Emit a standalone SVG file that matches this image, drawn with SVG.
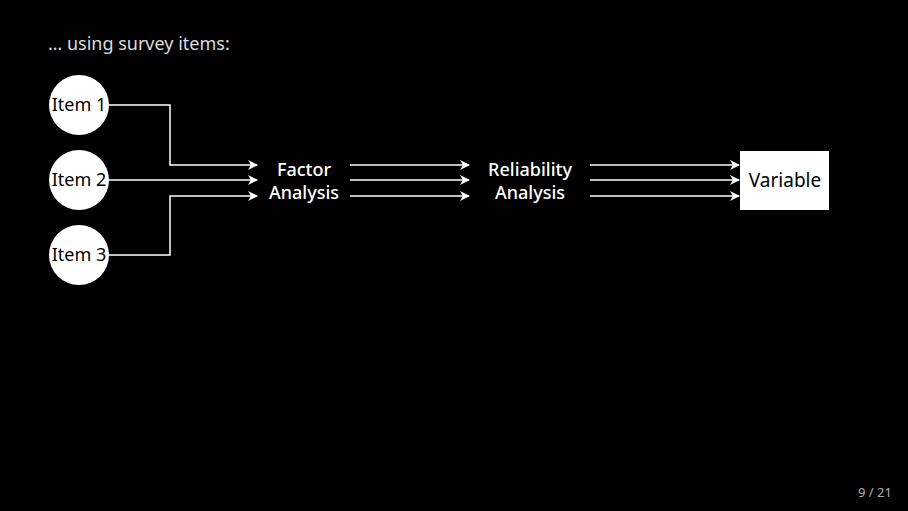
<svg xmlns="http://www.w3.org/2000/svg" width="908" height="511" viewBox="0 0 908 511">
<style>
.bg{fill:#000}
.node circle{fill:#fff}
.node text{font-family:"Noto Sans","Open Sans",sans-serif;font-size:18px;fill:#000;text-anchor:middle}
.lbl{font-family:"Noto Sans","Open Sans",sans-serif;font-size:18px;fill:#fff;text-anchor:middle;font-weight:500}
.conn path{fill:none;stroke:#fff;stroke-width:1.5}
</style>
<defs>
<marker id="ah" viewBox="0 0 10 10" refX="9" refY="5" markerWidth="10" markerHeight="10" markerUnits="userSpaceOnUse" orient="auto">
<path d="M0,0 L10,5 L0,10 L3,5 Z" fill="#fff"/>
</marker>
</defs>
<rect class="bg" x="0" y="0" width="908" height="511"/>
<text x="48" y="50" font-family="'Noto Sans','Open Sans',sans-serif" font-size="18" fill="#ddd">… using survey items:</text>
<g class="conn">
<path d="M109,105 H170 V165 H257" marker-end="url(#ah)"/>
<path d="M109,180 H257" marker-end="url(#ah)"/>
<path d="M109,255 H170 V196 H257" marker-end="url(#ah)"/>
<path d="M350,165 H469" marker-end="url(#ah)"/>
<path d="M350,180 H469" marker-end="url(#ah)"/>
<path d="M350,196 H469" marker-end="url(#ah)"/>
<path d="M590,165 H739" marker-end="url(#ah)"/>
<path d="M590,180 H739" marker-end="url(#ah)"/>
<path d="M590,196 H739" marker-end="url(#ah)"/>
</g>
<g id="item1" class="node"><circle cx="79" cy="105" r="30"/><text x="79" y="111">Item 1</text></g>
<g id="item2" class="node"><circle cx="79" cy="180" r="30"/><text x="79" y="186">Item 2</text></g>
<g id="item3" class="node"><circle cx="79" cy="255" r="30"/><text x="79" y="261">Item 3</text></g>
<g id="factor"><text class="lbl" x="304" y="176">Factor</text><text class="lbl" x="304" y="199">Analysis</text></g>
<g id="reliability"><text class="lbl" x="530" y="176">Reliability</text><text class="lbl" x="530" y="199">Analysis</text></g>
<g id="variable" class="node"><rect x="740" y="151" width="89" height="59" fill="#fff"/><text x="785" y="187" style="font-size:19px">Variable</text></g>
<text x="875" y="497" font-family="'Noto Sans','Open Sans',sans-serif" font-size="13" fill="#aab" text-anchor="middle">9 / 21</text>
</svg>
